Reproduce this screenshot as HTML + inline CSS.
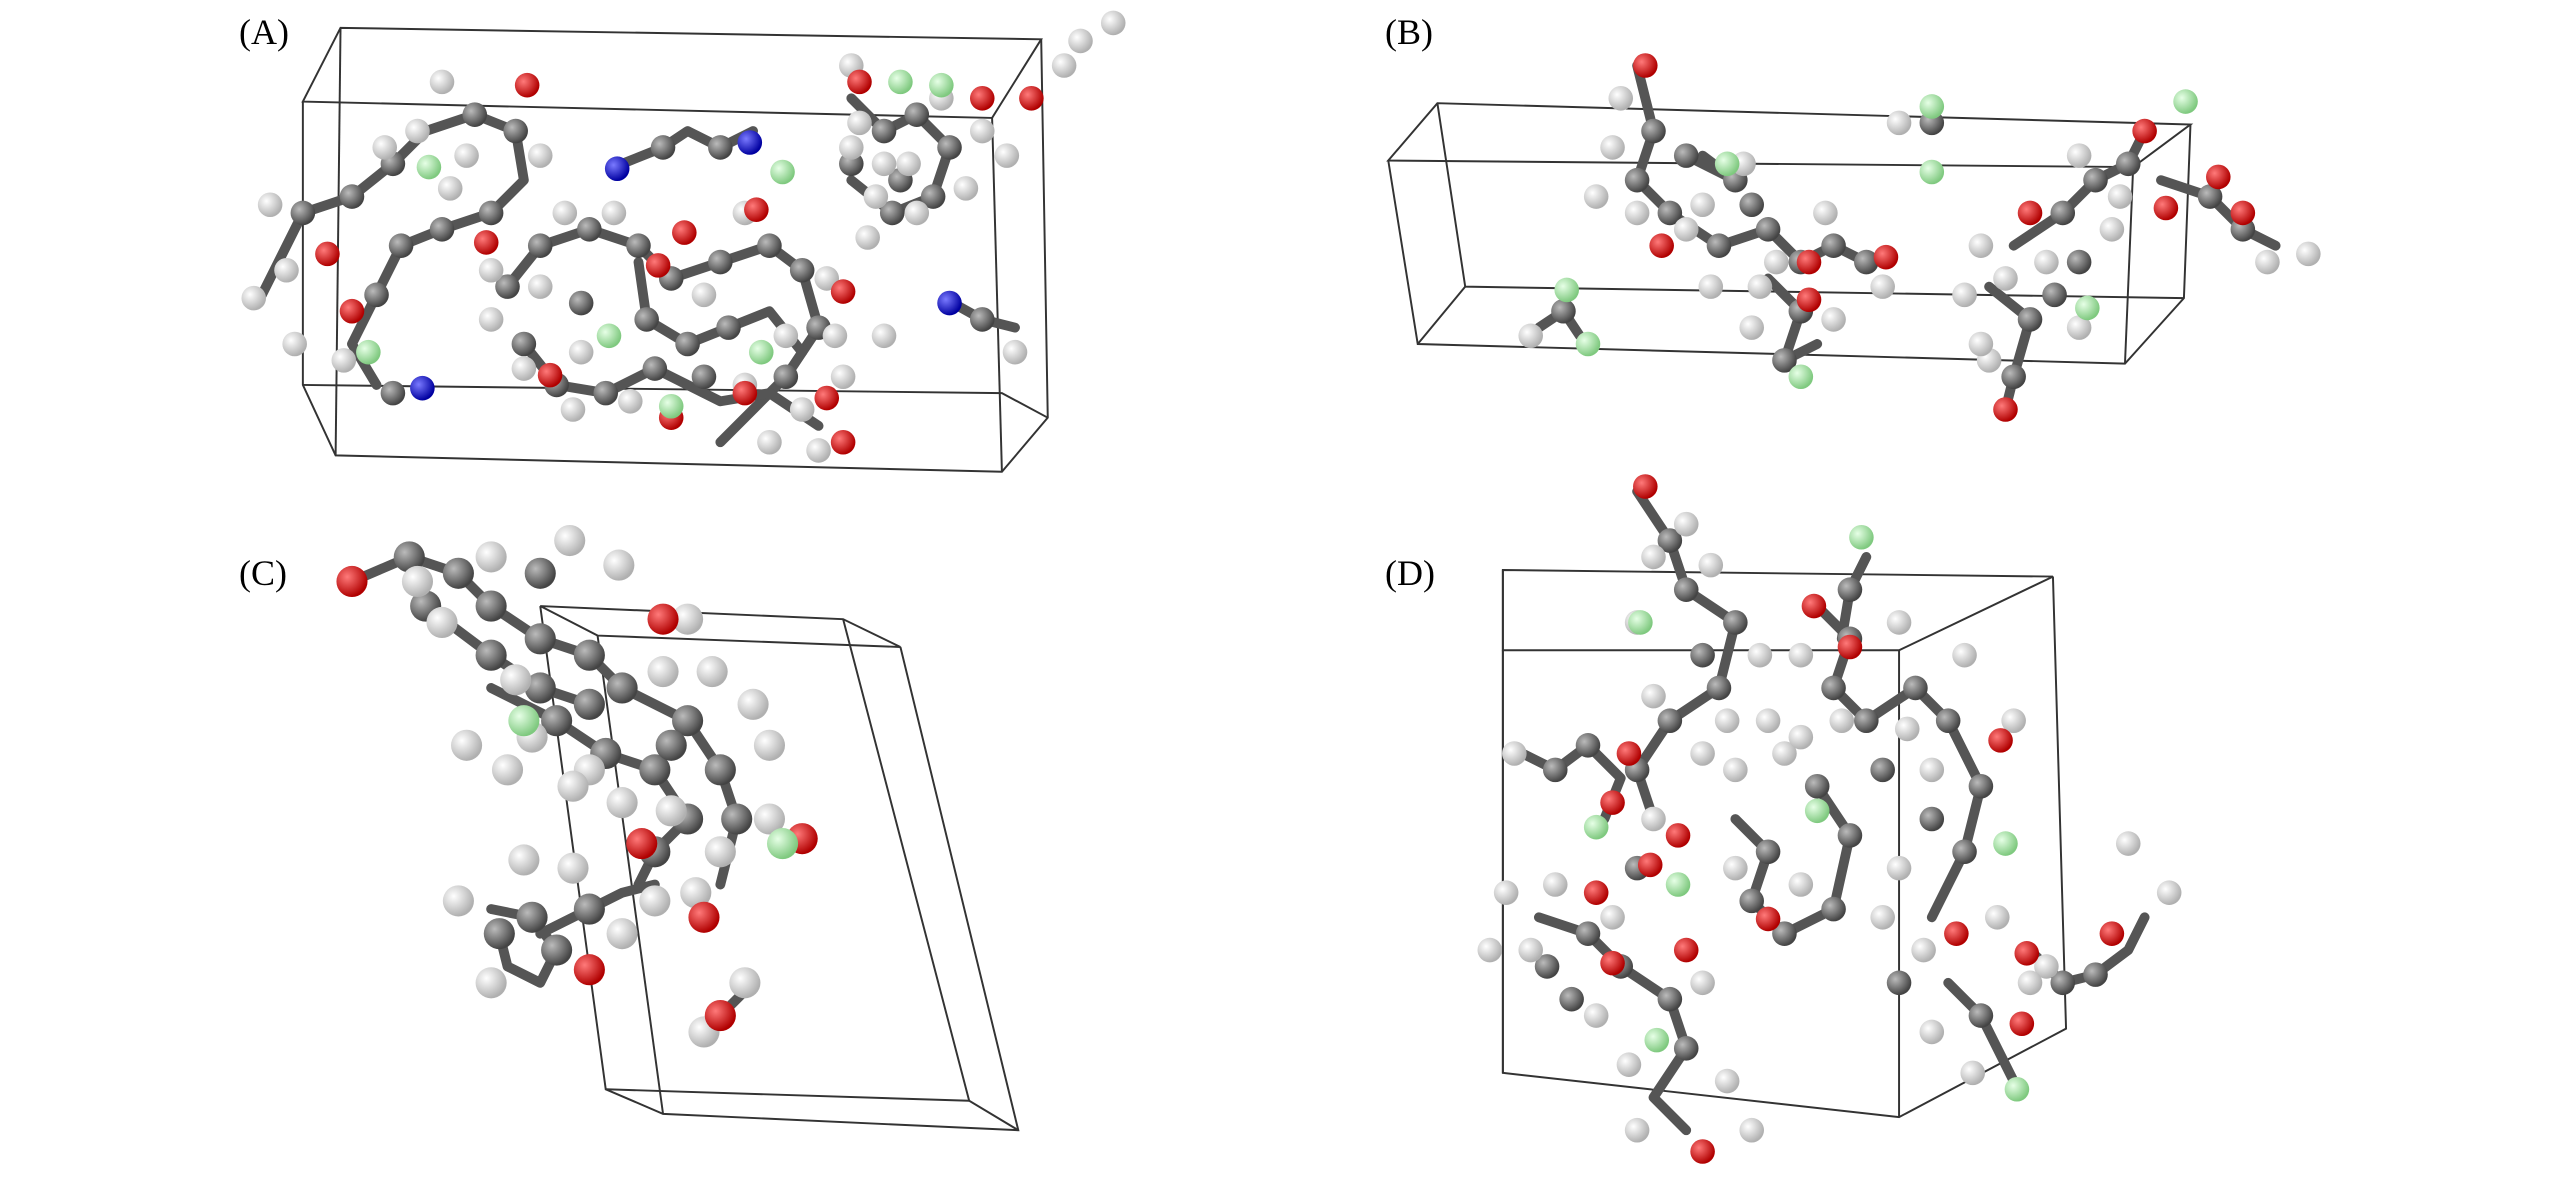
<!DOCTYPE html>
<html><head><meta charset="utf-8"><style>
html,body{margin:0;padding:0;background:#fff;}
svg{display:block;}
text{font-family:"Liberation Serif",serif;font-size:22px;fill:#000;}
.b{stroke:#555;stroke-width:6;stroke-linecap:round;stroke-linejoin:round;fill:none;}
.c{stroke:#333;stroke-width:1.2;fill:none;}
.s circle{r:7.5px;}
.L circle{r:9.5px;}
</style></head><body>
<svg width="2567" height="1181" viewBox="0 0 1568 721" preserveAspectRatio="none" xmlns="http://www.w3.org/2000/svg">
<defs>
<radialGradient id="g" cx="35%" cy="35%" r="65%"><stop offset="0" stop-color="#bbb"/><stop offset="1" stop-color="#444"/></radialGradient>
<radialGradient id="w" cx="35%" cy="35%" r="65%"><stop offset="0" stop-color="#fff"/><stop offset="1" stop-color="#b0b0b0"/></radialGradient>
<radialGradient id="r" cx="35%" cy="35%" r="65%"><stop offset="0" stop-color="#ff7a7a"/><stop offset="1" stop-color="#b00000"/></radialGradient>
<radialGradient id="f" cx="35%" cy="35%" r="65%"><stop offset="0" stop-color="#e6ffe6"/><stop offset="1" stop-color="#7fc97f"/></radialGradient>
<radialGradient id="n" cx="35%" cy="35%" r="65%"><stop offset="0" stop-color="#7a7aff"/><stop offset="1" stop-color="#0000a0"/></radialGradient>
</defs>
<rect width="1568" height="721" fill="#fff"/>
<text x="146" y="27">(A)</text>
<text x="846" y="27">(B)</text>
<text x="146" y="357">(C)</text>
<text x="846" y="357">(D)</text>

<polygon class="c" points="208,17 636,24 606,72 185,62"/>
<polyline class="c" points="185,62 185,235 205,278 612,288 640,255 636,24"/>
<polyline class="c" points="208,17 205,278"/>
<polyline class="c" points="606,72 612,288"/>
<polyline class="c" points="185,235 612,240 640,255"/>

<polygon class="c" points="878,63 1338,76 1303,102 848,98"/>
<polyline class="c" points="848,98 866,210 1298,222 1334,182 1338,76"/>
<polyline class="c" points="1303,102 1298,222"/>
<polyline class="c" points="878,63 895,175 1334,182"/>
<polyline class="c" points="895,175 866,210"/>

<polygon class="c" points="330,370 515,378 550,395 365,388"/>
<polyline class="c" points="330,370 370,665 405,680 622,690 550,395"/>
<polyline class="c" points="365,388 405,680"/>
<polyline class="c" points="515,378 592,672 622,690"/>
<polyline class="c" points="370,665 592,672"/>

<polygon class="c" points="918,348 1254,352 1160,397 918,397"/>
<polyline class="c" points="918,348 918,655 1160,682 1262,628 1254,352"/>
<polyline class="c" points="1160,397 1160,682"/>
<polyline class="c" points="918,397 918,655"/>

<g class="b">
<polyline points="160,180 185,130 215,120 240,100 260,80 290,70 315,80 320,110 300,130 270,140 245,150 230,180 215,210 230,235"/>
<polyline points="310,175 330,150 360,140 390,150 410,170 440,160 470,150 490,165 500,200 480,230 460,250 440,270"/>
<polyline points="320,210 340,235 370,240 400,225 420,235 440,245 470,240 500,260"/>
<polyline points="390,160 395,195 420,210 445,200 470,190 490,215"/>
<polyline points="520,60 540,80 560,70 580,90 570,120 545,130 520,110"/>
<polyline points="380,100 405,90 420,80 440,90 460,80"/>
<polyline points="582,185 600,195 620,200"/>
<polyline points="1000,40 1010,80 1000,110 1020,130 1050,150 1080,140 1100,160 1120,150 1140,160"/>
<polyline points="1080,170 1100,190 1090,220 1110,210"/>
<polyline points="1230,150 1260,130 1280,110 1300,100 1310,80"/>
<polyline points="1215,175 1240,195 1230,230 1225,250"/>
<polyline points="1320,110 1350,120 1370,140 1390,150"/>
<polyline points="940,200 955,190 965,205"/>
<polyline points="1040,95 1060,110 1030,95"/>
<polyline points="215,355 250,340 280,350 300,370 330,390 360,400 380,420 420,440 440,470 450,500 440,540"/>
<polyline points="300,420 340,440 370,460 400,470 420,500 400,520 390,540"/>
<polyline points="300,555 325,560 340,580 330,600 310,590 305,570"/>
<polyline points="330,570 360,555 380,545 400,540"/>
<polyline points="260,370 300,400 330,420 360,430"/>
<polyline points="440,620 455,605"/>
<polyline points="1000,300 1020,330 1030,360 1060,380 1050,420 1020,440 1000,470 1010,500"/>
<polyline points="1110,370 1130,390 1120,420 1140,440 1170,420 1190,440 1210,480 1200,520 1180,560"/>
<polyline points="1060,500 1080,520 1070,550 1090,570 1120,555 1130,510 1110,480"/>
<polyline points="930,460 950,470 970,455 990,475 980,500"/>
<polyline points="940,560 970,570 990,590 1020,610 1030,640 1010,670 1030,690"/>
<polyline points="1240,580 1260,600 1280,595 1300,580 1310,560"/>
<polyline points="1190,600 1210,620 1220,640 1230,660"/>
<polyline points="1140,340 1130,360 1125,390"/>
</g>

<g class="s">
<g fill="url(#g)">
<circle cx="185" cy="130"/><circle cx="215" cy="120"/><circle cx="240" cy="100"/><circle cx="290" cy="70"/><circle cx="315" cy="80"/><circle cx="300" cy="130"/><circle cx="270" cy="140"/><circle cx="245" cy="150"/><circle cx="230" cy="180"/>
<circle cx="330" cy="150"/><circle cx="360" cy="140"/><circle cx="390" cy="150"/><circle cx="410" cy="170"/><circle cx="440" cy="160"/><circle cx="470" cy="150"/><circle cx="490" cy="165"/><circle cx="500" cy="200"/><circle cx="480" cy="230"/><circle cx="340" cy="235"/><circle cx="370" cy="240"/><circle cx="400" cy="225"/><circle cx="420" cy="210"/><circle cx="445" cy="200"/><circle cx="395" cy="195"/><circle cx="310" cy="175"/><circle cx="320" cy="210"/>
<circle cx="540" cy="80"/><circle cx="560" cy="70"/><circle cx="580" cy="90"/><circle cx="570" cy="120"/><circle cx="545" cy="130"/><circle cx="405" cy="90"/><circle cx="440" cy="90"/><circle cx="600" cy="195"/><circle cx="240" cy="240"/>
<circle cx="355" cy="185"/><circle cx="430" cy="230"/><circle cx="520" cy="100"/><circle cx="550" cy="110"/>
</g>
<g fill="url(#w)">
<circle cx="155" cy="182"/><circle cx="180" cy="210"/><circle cx="255" cy="80"/><circle cx="270" cy="50"/><circle cx="330" cy="95"/><circle cx="275" cy="115"/><circle cx="300" cy="165"/><circle cx="345" cy="130"/><circle cx="375" cy="130"/><circle cx="455" cy="130"/><circle cx="505" cy="170"/><circle cx="515" cy="230"/><circle cx="455" cy="235"/><circle cx="470" cy="270"/><circle cx="500" cy="275"/><circle cx="320" cy="225"/><circle cx="355" cy="215"/><circle cx="385" cy="245"/><circle cx="430" cy="180"/><circle cx="520" cy="40"/><circle cx="555" cy="100"/><circle cx="590" cy="115"/><circle cx="520" cy="90"/><circle cx="615" cy="95"/><circle cx="560" cy="130"/><circle cx="650" cy="40"/><circle cx="680" cy="14"/><circle cx="620" cy="215"/><circle cx="210" cy="220"/><circle cx="540" cy="205"/>
<circle cx="165" cy="125"/><circle cx="175" cy="165"/><circle cx="330" cy="175"/><circle cx="300" cy="195"/><circle cx="525" cy="75"/><circle cx="535" cy="120"/><circle cx="575" cy="60"/><circle cx="600" cy="80"/><circle cx="540" cy="100"/><circle cx="530" cy="145"/><circle cx="510" cy="205"/><circle cx="490" cy="250"/><circle cx="480" cy="205"/><circle cx="350" cy="250"/><circle cx="660" cy="25"/><circle cx="235" cy="90"/><circle cx="285" cy="95"/>
</g>
<g fill="url(#r)">
<circle cx="322" cy="52"/><circle cx="297" cy="148"/><circle cx="200" cy="155"/><circle cx="215" cy="190"/><circle cx="418" cy="142"/><circle cx="462" cy="128"/><circle cx="402" cy="162"/><circle cx="336" cy="229"/><circle cx="410" cy="255"/><circle cx="455" cy="240"/><circle cx="515" cy="178"/><circle cx="505" cy="243"/><circle cx="515" cy="270"/><circle cx="630" cy="60"/><circle cx="600" cy="60"/><circle cx="525" cy="50"/>
</g>
<g fill="url(#f)"><circle cx="478" cy="105"/><circle cx="225" cy="215"/><circle cx="372" cy="205"/><circle cx="465" cy="215"/><circle cx="410" cy="248"/><circle cx="550" cy="50"/><circle cx="262" cy="102"/><circle cx="575" cy="52"/></g>
<g fill="url(#n)"><circle cx="377" cy="103"/><circle cx="458" cy="87"/><circle cx="258" cy="237"/><circle cx="580" cy="185"/></g>

<g fill="url(#g)">
<circle cx="1010" cy="80"/><circle cx="1000" cy="110"/><circle cx="1020" cy="130"/><circle cx="1050" cy="150"/><circle cx="1080" cy="140"/><circle cx="1100" cy="160"/><circle cx="1120" cy="150"/><circle cx="1140" cy="160"/><circle cx="1100" cy="190"/><circle cx="1090" cy="220"/><circle cx="1260" cy="130"/><circle cx="1280" cy="110"/><circle cx="1300" cy="100"/><circle cx="1240" cy="195"/><circle cx="1230" cy="230"/><circle cx="1350" cy="120"/><circle cx="1370" cy="140"/><circle cx="1180" cy="75"/><circle cx="955" cy="190"/><circle cx="1030" cy="95"/><circle cx="1060" cy="110"/>
<circle cx="1070" cy="125"/><circle cx="1270" cy="160"/><circle cx="1255" cy="180"/>
</g>
<g fill="url(#w)">
<circle cx="990" cy="60"/><circle cx="985" cy="90"/><circle cx="975" cy="120"/><circle cx="1040" cy="125"/><circle cx="1065" cy="100"/><circle cx="1045" cy="175"/><circle cx="1075" cy="175"/><circle cx="1150" cy="175"/><circle cx="1120" cy="195"/><circle cx="1160" cy="75"/><circle cx="1210" cy="150"/><circle cx="1200" cy="180"/><circle cx="1250" cy="160"/><circle cx="1270" cy="95"/><circle cx="1290" cy="140"/><circle cx="1270" cy="200"/><circle cx="1385" cy="160"/><circle cx="1410" cy="155"/><circle cx="935" cy="205"/><circle cx="1070" cy="200"/><circle cx="1215" cy="220"/>
<circle cx="1000" cy="130"/><circle cx="1030" cy="140"/><circle cx="1085" cy="160"/><circle cx="1115" cy="130"/><circle cx="1225" cy="170"/><circle cx="1295" cy="120"/><circle cx="1210" cy="210"/></g>
<g fill="url(#r)"><circle cx="1005" cy="40"/><circle cx="1015" cy="150"/><circle cx="1105" cy="160"/><circle cx="1152" cy="157"/><circle cx="1105" cy="183"/><circle cx="1240" cy="130"/><circle cx="1310" cy="80"/><circle cx="1323" cy="127"/><circle cx="1355" cy="108"/><circle cx="1370" cy="130"/><circle cx="1225" cy="250"/></g>
<g fill="url(#f)"><circle cx="1055" cy="100"/><circle cx="1180" cy="65"/><circle cx="1180" cy="105"/><circle cx="957" cy="177"/><circle cx="970" cy="210"/><circle cx="1100" cy="230"/><circle cx="1335" cy="62"/><circle cx="1275" cy="188"/></g>

<g fill="url(#g)">
<circle cx="1020" cy="330"/><circle cx="1030" cy="360"/><circle cx="1060" cy="380"/><circle cx="1050" cy="420"/><circle cx="1020" cy="440"/><circle cx="1000" cy="470"/><circle cx="1130" cy="390"/><circle cx="1120" cy="420"/><circle cx="1140" cy="440"/><circle cx="1170" cy="420"/><circle cx="1190" cy="440"/><circle cx="1210" cy="480"/><circle cx="1200" cy="520"/><circle cx="1080" cy="520"/><circle cx="1070" cy="550"/><circle cx="1090" cy="570"/><circle cx="1120" cy="555"/><circle cx="1130" cy="510"/><circle cx="1110" cy="480"/><circle cx="950" cy="470"/><circle cx="970" cy="455"/><circle cx="970" cy="570"/><circle cx="990" cy="590"/><circle cx="1020" cy="610"/><circle cx="1030" cy="640"/><circle cx="1260" cy="600"/><circle cx="1280" cy="595"/><circle cx="1210" cy="620"/><circle cx="1130" cy="360"/><circle cx="1000" cy="530"/><circle cx="1160" cy="600"/><circle cx="960" cy="610"/>
<circle cx="1040" cy="400"/><circle cx="1150" cy="470"/><circle cx="1180" cy="500"/><circle cx="945" cy="590"/></g>
<g fill="url(#w)">
<circle cx="1030" cy="320"/><circle cx="1045" cy="345"/><circle cx="1000" cy="380"/><circle cx="1075" cy="400"/><circle cx="1080" cy="440"/><circle cx="1040" cy="460"/><circle cx="1010" cy="500"/><circle cx="1100" cy="400"/><circle cx="1160" cy="380"/><circle cx="1200" cy="400"/><circle cx="1230" cy="440"/><circle cx="1180" cy="470"/><circle cx="1160" cy="530"/><circle cx="1150" cy="560"/><circle cx="1060" cy="470"/><circle cx="1090" cy="460"/><circle cx="925" cy="460"/><circle cx="920" cy="545"/><circle cx="910" cy="580"/><circle cx="950" cy="540"/><circle cx="975" cy="620"/><circle cx="995" cy="650"/><circle cx="1000" cy="690"/><circle cx="1055" cy="660"/><circle cx="1070" cy="690"/><circle cx="1040" cy="600"/><circle cx="1220" cy="560"/><circle cx="1250" cy="590"/><circle cx="1300" cy="515"/><circle cx="1325" cy="545"/><circle cx="1180" cy="630"/><circle cx="1205" cy="655"/><circle cx="1010" cy="425"/><circle cx="1125" cy="440"/>
<circle cx="1010" cy="340"/><circle cx="1055" cy="440"/><circle cx="1100" cy="450"/><circle cx="1060" cy="530"/><circle cx="1100" cy="540"/><circle cx="1165" cy="445"/><circle cx="1240" cy="600"/><circle cx="1175" cy="580"/><circle cx="935" cy="580"/><circle cx="985" cy="560"/></g>
<g fill="url(#r)"><circle cx="1005" cy="297"/><circle cx="1108" cy="370"/><circle cx="1130" cy="395"/><circle cx="995" cy="460"/><circle cx="985" cy="490"/><circle cx="1222" cy="452"/><circle cx="1080" cy="561"/><circle cx="1008" cy="528"/><circle cx="975" cy="545"/><circle cx="985" cy="588"/><circle cx="1030" cy="580"/><circle cx="1195" cy="570"/><circle cx="1238" cy="582"/><circle cx="1290" cy="570"/><circle cx="1235" cy="625"/><circle cx="1040" cy="703"/><circle cx="1025" cy="510"/></g>
<g fill="url(#f)"><circle cx="1137" cy="328"/><circle cx="1002" cy="380"/><circle cx="975" cy="505"/><circle cx="1025" cy="540"/><circle cx="1225" cy="515"/><circle cx="1012" cy="635"/><circle cx="1232" cy="665"/><circle cx="1110" cy="495"/></g>
</g>

<g class="L">
<g fill="url(#g)">
<circle cx="250" cy="340"/><circle cx="280" cy="350"/><circle cx="300" cy="370"/><circle cx="330" cy="390"/><circle cx="360" cy="400"/><circle cx="380" cy="420"/><circle cx="420" cy="440"/><circle cx="440" cy="470"/><circle cx="450" cy="500"/><circle cx="340" cy="440"/><circle cx="370" cy="460"/><circle cx="400" cy="470"/><circle cx="420" cy="500"/><circle cx="400" cy="520"/><circle cx="325" cy="560"/><circle cx="340" cy="580"/><circle cx="305" cy="570"/><circle cx="360" cy="555"/><circle cx="260" cy="370"/><circle cx="330" cy="350"/>
<circle cx="300" cy="400"/><circle cx="330" cy="420"/><circle cx="360" cy="430"/><circle cx="410" cy="455"/></g>
<g fill="url(#w)">
<circle cx="255" cy="355"/><circle cx="270" cy="380"/><circle cx="300" cy="340"/><circle cx="348" cy="330"/><circle cx="378" cy="345"/><circle cx="420" cy="378"/><circle cx="315" cy="415"/><circle cx="360" cy="470"/><circle cx="405" cy="410"/><circle cx="435" cy="410"/><circle cx="460" cy="430"/><circle cx="470" cy="455"/><circle cx="470" cy="500"/><circle cx="410" cy="495"/><circle cx="320" cy="525"/><circle cx="280" cy="550"/><circle cx="300" cy="600"/><circle cx="400" cy="550"/><circle cx="425" cy="545"/><circle cx="455" cy="600"/><circle cx="430" cy="630"/>
<circle cx="285" cy="455"/><circle cx="310" cy="470"/><circle cx="350" cy="480"/><circle cx="380" cy="490"/><circle cx="325" cy="450"/><circle cx="440" cy="520"/><circle cx="350" cy="530"/><circle cx="380" cy="570"/></g>
<g fill="url(#r)"><circle cx="215" cy="355"/><circle cx="405" cy="378"/><circle cx="490" cy="512"/><circle cx="392" cy="515"/><circle cx="360" cy="592"/><circle cx="430" cy="560"/><circle cx="440" cy="620"/></g>
<g fill="url(#f)"><circle cx="320" cy="440"/><circle cx="478" cy="515"/></g>
</g>
</svg>
</body></html>
